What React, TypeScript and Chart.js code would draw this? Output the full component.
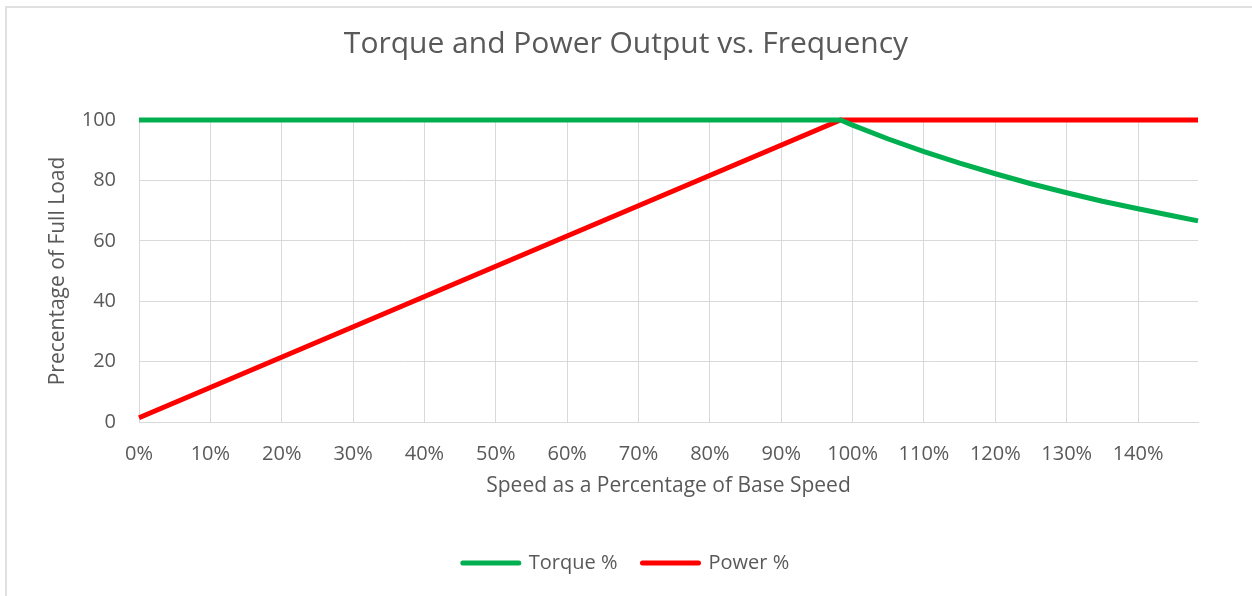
import React, { useEffect, useRef } from "react";
import { Chart, registerables } from "chart.js";

Chart.register(...registerables);

// Speed (as label %) positions and values
const powerSpeed = [0, 98.3, 148.4];
const powerValues = [1.4, 100, 100];

const torqueSpeed = [0, 98.3, 100, 105, 110, 115, 120, 125, 130, 135, 140, 145, 148.4];
const torqueValues = [100, 100, 98.3, 93.7, 89.5, 85.7, 82.2, 78.9, 75.9, 73.1, 70.6, 68.2, 66.6];

const xTickValues = [0, 10, 20, 30, 40, 50, 60, 70, 80, 90, 100, 110, 120, 130, 140];
const yTickStep = 20;

const titleText = "Torque and Power Output vs. Frequency";
const xTitle = "Speed as a Percentage of Base Speed";
const yTitle = "Precentage of Full Load";

const FONT = "'Open Sans', 'Liberation Sans', sans-serif";
const TEXT = "#595959";
const GRID = "#d9d9d9";

export default function App() {
  const ref = useRef<HTMLCanvasElement | null>(null);

  useEffect(() => {
    if (!ref.current) return;
    const toPts = (xs: number[], ys: number[]) => xs.map((x, i) => ({ x, y: ys[i] }));
    const chart = new Chart(ref.current, {
      type: "line",
      data: {
        datasets: [
          {
            label: "Torque %",
            data: toPts(torqueSpeed, torqueValues),
            borderColor: "#00B050",
            backgroundColor: "#00B050",
            borderWidth: 5,
            pointRadius: 0,
            tension: 0,
            clip: 6,
          },
          {
            label: "Power %",
            data: toPts(powerSpeed, powerValues),
            borderColor: "#FF0000",
            backgroundColor: "#FF0000",
            borderWidth: 5,
            pointRadius: 0,
            tension: 0,
            clip: 6,
          },
        ],
      },
      options: {
        responsive: false,
        animation: false,
        layout: { padding: { left: 0, right: 0, top: 0, bottom: 13 } },
        plugins: {
          tooltip: { enabled: false },
          title: {
            display: true,
            text: titleText,
            color: TEXT,
            font: { family: FONT, size: 30, weight: "normal" },
            padding: { top: 26, bottom: 58 },
          },
          legend: {
            position: "bottom",
            labels: {
              color: TEXT,
              font: { family: FONT, size: 20 },
              usePointStyle: true,
              pointStyle: "line",
              pointStyleWidth: 56,
              boxHeight: 5,
              padding: 25,
              generateLabels: (c: any) =>
                c.data.datasets.map((ds: any, i: number) => ({
                  text: ds.label,
                  fillStyle: ds.borderColor,
                  strokeStyle: ds.borderColor,
                  lineWidth: 5,
                  lineCap: "round",
                  pointStyle: "line",
                  fontColor: TEXT,
                  hidden: false,
                  datasetIndex: i,
                })),
            },
          },
        },
        scales: {
          x: {
            type: "linear",
            min: 0,
            max: powerSpeed[powerSpeed.length - 1],
            afterBuildTicks: (s: any) => {
              s.ticks = xTickValues.map((v) => ({ value: v }));
            },
            afterFit: (s: any) => {
              s.height = 106;
            },
            ticks: {
              color: TEXT,
              font: { family: FONT, size: 20 },
              padding: 20,
              maxRotation: 0,
              autoSkip: false,
              callback: (v: any) => `${v}%`,
            },
            grid: { color: GRID, lineWidth: 1, drawTicks: false },
            border: { color: GRID, width: 1 },
            title: {
              display: true,
              text: xTitle,
              color: TEXT,
              font: { family: FONT, size: 21 },
              padding: { top: 0, bottom: 29 },
            },
          },
          y: {
            min: 0,
            max: 100,
            afterFit: (s: any) => {
              s.width = 139;
            },
            ticks: {
              stepSize: yTickStep,
              color: TEXT,
              font: { family: FONT, size: 20 },
              padding: 23,
            },
            grid: { color: GRID, lineWidth: 1, drawTicks: false },
            border: { color: GRID, width: 1 },
            title: {
              display: true,
              text: yTitle,
              color: TEXT,
              font: { family: FONT, size: 21 },
              padding: { top: 45, bottom: 0 },
            },
          },
          yRight: {
            position: "right",
            display: true,
            min: 0,
            max: 100,
            afterFit: (s: any) => {
              s.width = 54;
            },
            ticks: { display: false },
            grid: { display: false },
            border: { display: false },
          },
        },
      },
    });
    return () => chart.destroy();
  }, []);

  return (
    <div style={{ position: "fixed", left: 0, top: 0, width: 1252, height: 596, background: "#fff" }}>
      <div
        style={{
          position: "absolute",
          left: 5,
          top: 6,
          right: 0,
          bottom: 0,
          borderLeft: "2px solid #e0e0e0",
          borderTop: "2px solid #e0e0e0",
          pointerEvents: "none",
        }}
      />
      <canvas ref={ref} width={1252} height={596} style={{ position: "absolute", left: 0, top: 0 }} />
    </div>
  );
}
